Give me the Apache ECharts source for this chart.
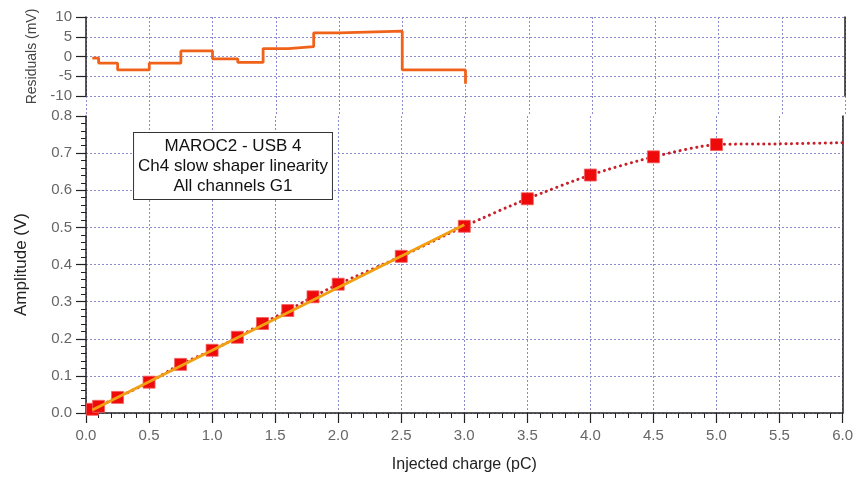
<!DOCTYPE html>
<html><head><meta charset="utf-8">
<script src="https://cdn.jsdelivr.net/npm/echarts@6/dist/echarts.min.js"></script>
<style>html,body{margin:0;padding:0;background:#fff}#c{width:856px;height:478px}</style>
</head><body><div id="c"></div>
<script>
// ---- data ----
const charge = [0.05, 0.1, 0.25, 0.5, 0.75, 1.0, 1.2, 1.4, 1.6, 1.8, 2.0, 2.5, 3.0, 3.5, 4.0, 4.5, 5.0];
const amplitude = [0.010, 0.018, 0.042, 0.083, 0.131, 0.169, 0.204, 0.241, 0.276, 0.313, 0.347, 0.422, 0.503, 0.577, 0.641, 0.690, 0.723];
const curveTailX = [5.5, 6.0];
const curveTailY = [0.725, 0.728];
const fitX = [0.05, 3.0];
const fitY = [0.008, 0.507];
const residualCharge = [0.05, 0.1, 0.25, 0.5, 0.75, 1.0, 1.2, 1.4, 1.6, 1.8, 2.0, 2.5, 3.0];
const residuals = [-0.4, -1.7, -3.4, -1.7, 1.4, -0.6, -1.5, 2.0, 2.5, 6.0, 6.4, -3.4, -6.9];
const xTicks = ['0.0','0.5','1.0','1.5','2.0','2.5','3.0','3.5','4.0','4.5','5.0','5.5','6.0'];
const boxText = ['MAROC2 - USB 4', 'Ch4 slow shaper linearity', 'All channels G1'];

const FONT = '"Liberation Sans", Arial, sans-serif';
const gridLine = {show: true, lineStyle: {color: '#8a8acc', width: 1, type: [2, 2]}};
const axisBlack = {show: true, lineStyle: {color: '#222', width: 1.5}};
const labelStyle = {color: '#666', fontSize: 15, fontFamily: FONT};

const pts = (xs, ys) => xs.map((x, i) => [x, ys[i]]);

const chart = echarts.init(document.getElementById('c'), null, {renderer: 'canvas'});
chart.setOption({
  animation: false,
  backgroundColor: '#fff',
  grid: [
    {left: 86, right: 11, top: 17, height: 79},
    {left: 86, right: 11, top: 116, height: 299},
    {left: 86, right: 11, top: 96, height: 20}
  ],
  xAxis: [
    {gridIndex: 0, type: 'value', min: 0, max: 6, interval: 0.5,
     axisLine: {show: false}, axisTick: {show: false}, axisLabel: {show: false}, splitLine: gridLine},
    {gridIndex: 1, type: 'value', min: 0, max: 6, interval: 0.5,
     axisLine: axisBlack,
     axisTick: {show: true, length: 10, lineStyle: {color: '#222', width: 1.2}},
     minorTick: {show: true, splitNumber: 5, length: 5, lineStyle: {color: '#222', width: 1}},
     axisLabel: Object.assign({margin: 15, formatter: (v) => xTicks[Math.round(v / 0.5)]}, labelStyle),
     splitLine: gridLine,
     name: 'Injected charge (pC)', nameLocation: 'middle', nameGap: 44,
     nameTextStyle: {color: '#222', fontSize: 16, fontFamily: FONT}},
    {gridIndex: 2, type: 'value', min: 0, max: 6, interval: 0.5,
     axisLine: {show: false}, axisTick: {show: false}, axisLabel: {show: false}, splitLine: gridLine}
  ],
  yAxis: [
    {gridIndex: 0, type: 'value', min: -10, max: 10, interval: 5,
     axisLine: axisBlack,
     axisTick: {show: true, length: 10, lineStyle: {color: '#222', width: 1.2}},
     axisLabel: Object.assign({margin: 14}, labelStyle),
     splitLine: gridLine,
     name: 'Residuals (mV)', nameLocation: 'middle', nameGap: 44,
     nameTextStyle: {color: '#444', fontSize: 14, fontFamily: FONT}},
    {gridIndex: 0, type: 'value', min: -10, max: 10, position: 'right',
     axisLine: axisBlack, axisTick: {show: false}, axisLabel: {show: false}, splitLine: {show: false}},
    {gridIndex: 1, type: 'value', min: 0, max: 0.8, interval: 0.1,
     axisLine: axisBlack,
     axisTick: {show: true, length: 10, lineStyle: {color: '#222', width: 1.2}},
     minorTick: {show: true, splitNumber: 5, length: 5, lineStyle: {color: '#222', width: 1}},
     axisLabel: Object.assign({margin: 14, formatter: (v) => v.toFixed(1)}, labelStyle),
     splitLine: Object.assign({showMaxLine: false}, gridLine),
     name: 'Amplitude (V)', nameLocation: 'middle', nameGap: 56,
     nameTextStyle: {color: '#222', fontSize: 17, fontFamily: FONT}},
    {gridIndex: 1, type: 'value', min: 0, max: 0.8, position: 'right',
     axisLine: axisBlack, axisTick: {show: false}, axisLabel: {show: false}, splitLine: {show: false}},
    {gridIndex: 2, type: 'value', min: 0, max: 1, show: false}
  ],
  graphic: [{
    type: 'text', x: 233, y: 166, z: 100,
    style: {
      text: boxText.join('\n'), align: 'center', verticalAlign: 'middle', fill: '#111',
      font: '17px ' + FONT, lineHeight: 20,
      backgroundColor: '#fff', borderColor: '#333', borderWidth: 1,
      padding: [3, 4, 3, 4]
    }
  }],
  series: [
    {type: 'line', xAxisIndex: 0, yAxisIndex: 0, step: 'end', symbol: 'none',
     data: pts(residualCharge, residuals),
     lineStyle: {color: '#f0621a', width: 2.8}, z: 5},
    {type: 'line', xAxisIndex: 1, yAxisIndex: 2, symbol: 'none', smooth: 0.25,
     data: pts(charge.concat(curveTailX), amplitude.concat(curveTailY)),
     lineStyle: {color: '#c8202a', width: 3, type: [0.1, 5.5], cap: 'round'}, z: 3},
    {type: 'scatter', xAxisIndex: 1, yAxisIndex: 2, symbol: 'rect', symbolSize: 12,
     data: pts(charge, amplitude),
     itemStyle: {color: '#ee0a0a', borderColor: '#f46060', borderWidth: 0.8, opacity: 1}, z: 4},
    {type: 'line', xAxisIndex: 1, yAxisIndex: 2, symbol: 'none',
     data: pts(fitX, fitY),
     lineStyle: {color: '#f0a010', width: 3}, z: 6}
  ]
});
</script></body></html>
